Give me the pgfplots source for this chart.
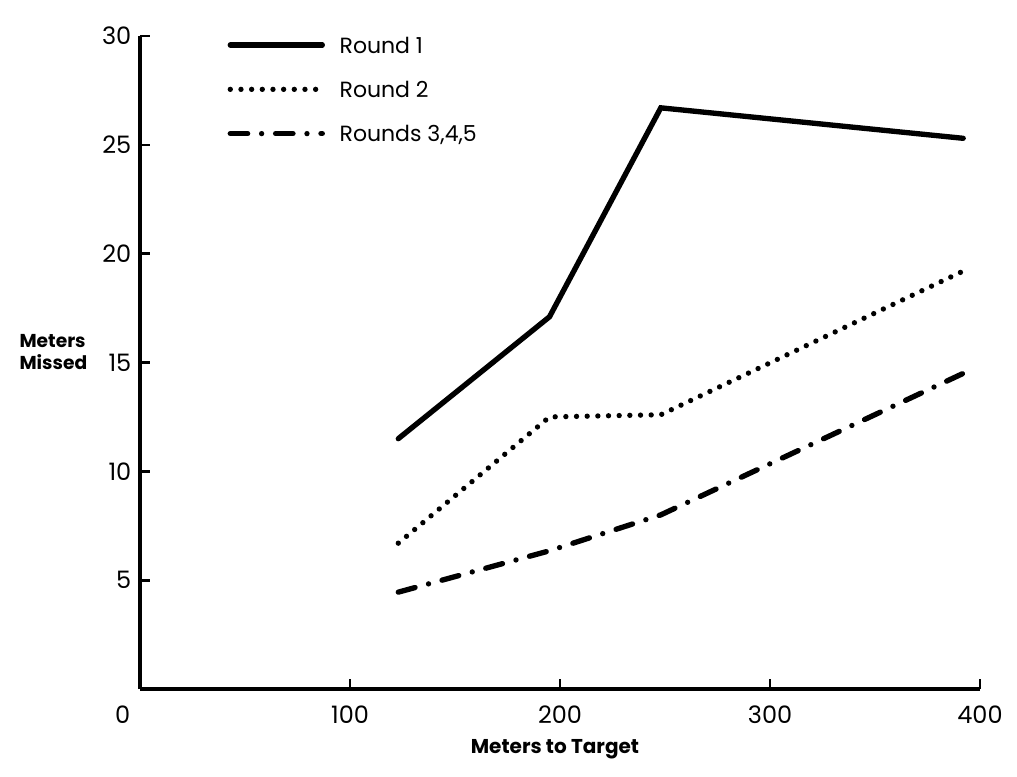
\documentclass[border=0pt]{standalone}
\usepackage{pgfplots}
\pgfplotsset{compat=1.18}
\usepackage{fontspec}
\setmainfont{Poppins}
\begin{document}
\begin{tikzpicture}
\path[use as bounding box] (-105pt,-65.25pt) rectangle (657.75pt,516.75pt);
\begin{axis}[
  at={(0,0)}, anchor=origin,
  width=630pt, height=489.75pt, scale only axis,
  xmin=0, xmax=400, ymin=0, ymax=30,
  axis x line*=bottom, axis y line*=left,
  axis line style={line width=3pt,-},
  xtick={100,200,300,400}, ytick={5,10,15,20,25,30},
  extra x ticks={0}, extra x tick style={major tick length=0pt, xticklabel style={xshift=-13pt}},
  major tick length=7.5pt, tick align=inside,
  tick style={line width=2pt,black},
  /pgf/number format/assume math mode=true,
  ticklabel style={font=\fontsize{18}{20}\selectfont},
  xticklabel style={yshift=-9pt},
  yticklabel style={xshift=-3pt},
  xlabel={\bfseries Meters to Target},
  xlabel style={font=\fontsize{15}{17}\selectfont, at={(axis description cs:0.494,0)}, anchor=north, yshift=-34pt},
  legend style={at={(axis description cs:0.104,0.999)}, anchor=north west, draw=none, fill=none,
    font=\fontsize{16.5}{18}\selectfont, row sep=21pt, inner sep=0pt,
    nodes={inner xsep=0pt, inner ysep=0pt, text depth=0pt}},
  legend cell align=left,
  legend image code/.code={\draw[#1] (0pt,0pt) -- (69pt,0pt);},
  legend style={/tikz/every even column/.append style={column sep=0pt}},
  clip=false,
]
\addplot[black, line width=4pt, line cap=round] coordinates {(123,11.5) (195,17.1) (248,26.7) (392,25.3)};
\addlegendentry{\hspace{11pt}Round 1}
\addplot[black, line width=4pt, line cap=round, dash pattern=on 0pt off 8pt] coordinates {(123,6.7) (195,12.5) (248,12.6) (392,19.2)};
\addlegendentry{\hspace{11pt}Round 2}
\addplot[black, line width=4pt, line cap=round, dash pattern=on 13pt off 10.5pt on 0pt off 10.5pt] coordinates {(123,4.45) (195,6.35) (248,8.0) (392,14.5)};
\addlegendentry{\hspace{11pt}Rounds 3,4,5}
\node[font=\bfseries\fontsize{14}{17}\selectfont, align=left, anchor=west] at (axis description cs:-0.149,0.516) {Meters\\Missed};
\end{axis}
\end{tikzpicture}
\end{document}
